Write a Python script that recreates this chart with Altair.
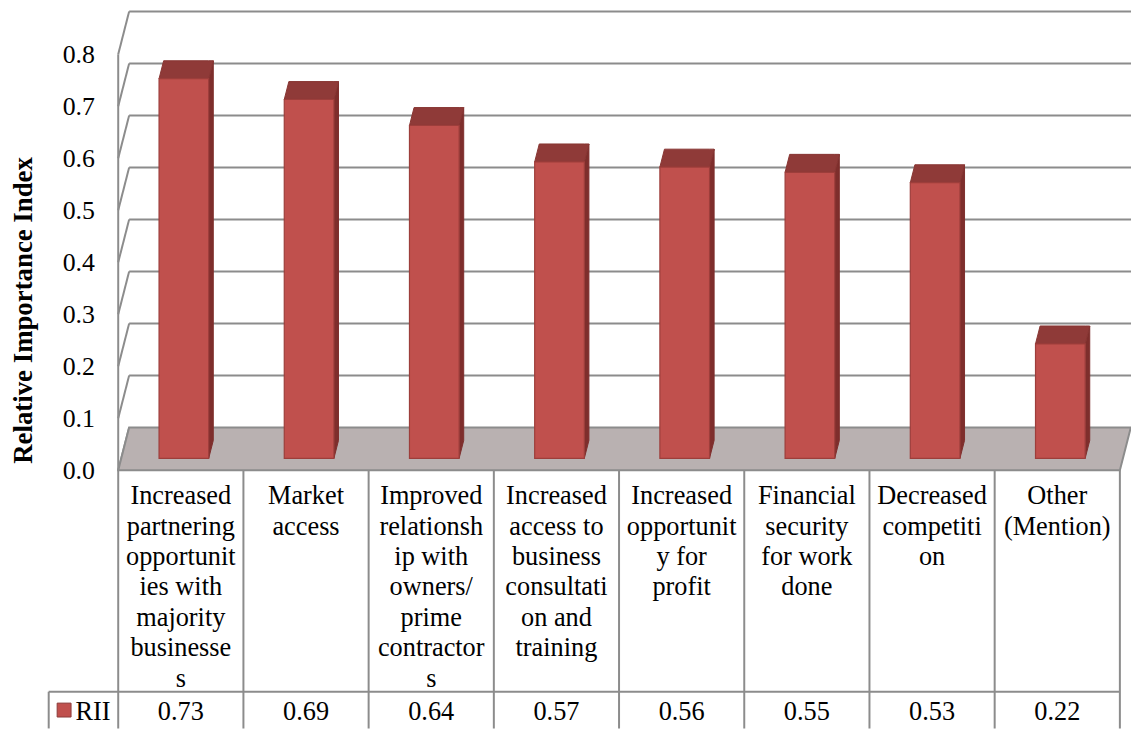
import altair as alt
import pandas as pd

# ---------------- data ----------------
category_lines = [
    ["Increased", "partnering", "opportunit", "ies with", "majority", "businesse", "s"],
    ["Market", "access"],
    ["Improved", "relationsh", "ip with", "owners/", "prime", "contractor", "s"],
    ["Increased", "access to", "business", "consultati", "on and", "training"],
    ["Increased", "opportunit", "y for", "profit"],
    ["Financial", "security", "for work", "done"],
    ["Decreased", "competiti", "on"],
    ["Other", "(Mention)"],
]
rii = [0.73, 0.69, 0.64, 0.57, 0.56, 0.55, 0.53, 0.22]
series_name = "RII"
y_ticks = [0.0, 0.1, 0.2, 0.3, 0.4, 0.5, 0.6, 0.7, 0.8]
y_title = "Relative Importance Index"

# ---------------- geometry (scale settings) ----------------
N = len(rii)
PXU = 126.1      # px per category column
PXV = 523.75     # px per 1.0 of value
PLOT_W, PLOT_H = 1020, 723
X_DOM = [0, PLOT_W / PXU]
Y_DOM = [-(731 - 471) / PXV, (471 - 8) / PXV]
WDX, WDY = 11 / PXU, 43 / PXV          # depth of the 3-D box
F0, T = 0.28, 0.42                     # bar front depth and thickness (fraction of box depth)
HW = 25 / PXU                          # half bar width
ROW_Y = -(694 - 471) / PXV             # table row separator
VAL_Y = -(722.5 - 471) / PXV           # value baseline
CAT_Y = -(484 - 471) / PXV             # category text top
LEG_X = -(119 - 49) / PXU              # legend cell left border
SQ_X, SQ_Y = -(119 - 64.5) / PXU, -(712.5 - 471) / PXV
TXT_X = -(119 - 76) / PXU

FONT = "'Liberation Serif', 'Times New Roman', 'DejaVu Serif', serif"
GRID = "#8c8c8c"

xs = alt.Scale(domain=X_DOM, nice=False, zero=False)
ys = alt.Scale(domain=Y_DOM, nice=False, zero=False)
y_axis = alt.Axis(title=y_title, values=y_ticks, format=".1f", domain=False, ticks=False,
                  grid=False, labelFont=FONT, labelFontSize=26, labelColor="black",
                  labelPadding=24, titleFont=FONT, titleFontSize=27, titleFontWeight="bold",
                  titleColor="black", titleAngle=270, titleAlign="center",
                  titleBaseline="middle", titleX=-95.5, titleY=301.5)


def X(f):
    return alt.X(f, type="quantitative", scale=xs, axis=None)


def Y(f):
    return alt.Y(f, type="quantitative", scale=ys, axis=y_axis)


# ---------------- derived tables ----------------
front, side, topf = [], [], []
for i, v in enumerate(rii):
    c = i + 0.5
    xl = c - HW + F0 * WDX
    xr = c + HW + F0 * WDX
    base = F0 * WDY
    top = base + v
    tdx, tdy = T * WDX, T * WDY
    front.append({"xl": xl, "xr": xr, "base": base, "top": top})
    side += [{"bar": i, "x": xr, "y": top, "y2": base},
             {"bar": i, "x": xr + tdx, "y": top + tdy, "y2": base + tdy}]
    topf += [{"bar": i, "x": xl, "y": top, "y2": top},
             {"bar": i, "x": xl + tdx, "y": top + tdy, "y2": top},
             {"bar": i, "x": xr, "y": top + tdy, "y2": top},
             {"bar": i, "x": xr + tdx, "y": top + tdy, "y2": top + tdy}]
front = pd.DataFrame(front)
side = pd.DataFrame(side)
topf = pd.DataFrame(topf)

floor = pd.DataFrame([
    {"x": 0, "y": 0, "y2": 0},
    {"x": WDX, "y": WDY, "y2": 0},
    {"x": N, "y": WDY, "y2": 0},
    {"x": N + WDX, "y": WDY, "y2": WDY},
])

grid = pd.DataFrame([{"x": WDX, "x2": X_DOM[1], "y": g + WDY} for g in y_ticks if g > 0])
diag = pd.DataFrame([{"x": 0, "x2": WDX, "y": g, "y2": g + WDY} for g in y_ticks])

segs = [{"x": 0, "x2": 0, "y": y_ticks[-1], "y2": Y_DOM[0]}]
segs += [{"x": k, "x2": k, "y": 0, "y2": Y_DOM[0]} for k in range(1, N + 1)]
segs += [{"x": LEG_X, "x2": N, "y": ROW_Y, "y2": ROW_Y},
         {"x": LEG_X, "x2": LEG_X, "y": ROW_Y, "y2": Y_DOM[0]}]
segs = pd.DataFrame(segs)

cats = pd.DataFrame({"x": [i + 0.5 for i in range(N)],
                     "y": [CAT_Y] * N,
                     "label": ["\n".join(l) for l in category_lines]})
vals = pd.DataFrame({"x": [i + 0.5 for i in range(N)],
                     "y": [VAL_Y] * N,
                     "label": [f"{v:.2f}" for v in rii]})
leg = pd.DataFrame({"x": [SQ_X], "y": [SQ_Y], "tx": [TXT_X], "ty": [VAL_Y], "label": [series_name]})

# ---------------- layers ----------------
grid_l = alt.Chart(grid).mark_rule(color=GRID, strokeWidth=2).encode(x=X("x"), x2="x2", y=Y("y"))
diag_l = alt.Chart(diag).mark_rule(color=GRID, strokeWidth=2).encode(x=X("x"), x2="x2", y=Y("y"), y2="y2")
floor_l = alt.Chart(floor).mark_area(fill="#b9b1b1", stroke=GRID, strokeWidth=2, orient="vertical",
                                     interpolate="linear").encode(x=X("x"), y=Y("y"), y2="y2")
side_l = alt.Chart(side).mark_area(fill="#7e2e2c", stroke="#7e2e2c", strokeWidth=1, orient="vertical").encode(
    x=X("x"), y=Y("y"), y2="y2", detail="bar:N")
top_l = alt.Chart(topf).mark_area(fill="#8f3a38", stroke="#873532", strokeWidth=1, orient="vertical").encode(
    x=X("x"), y=Y("y"), y2="y2", detail="bar:N")
front_l = alt.Chart(front).mark_rect(fill="#c0504d", stroke="#9d3e3b", strokeWidth=1.2).encode(
    x=X("xl"), x2="xr", y=Y("base"), y2="top")
segs_l = alt.Chart(segs).mark_rule(color=GRID, strokeWidth=2).encode(x=X("x"), x2="x2", y=Y("y"), y2="y2")
cats_l = alt.Chart(cats).mark_text(font=FONT, fontSize=26.5, color="black", align="center",
                                   baseline="top", lineBreak="\n", lineHeight=30.7).encode(
    x=X("x"), y=Y("y"), text="label:N")
vals_l = alt.Chart(vals).mark_text(font=FONT, fontSize=26.5, color="black", align="center",
                                   baseline="alphabetic").encode(x=X("x"), y=Y("y"), text="label:N")
sq_l = alt.Chart(leg).mark_point(shape="square", size=196, filled=True, fill="#c0504d", stroke="#8b3a38",
                                 strokeWidth=1, opacity=1).encode(x=X("x"), y=Y("y"))
legt_l = alt.Chart(leg).mark_text(font=FONT, fontSize=26.5, color="black", align="left",
                                  baseline="alphabetic").encode(x=X("tx"), y=Y("ty"), text="label:N")

chart = alt.layer(grid_l, diag_l, floor_l, side_l, top_l, front_l, segs_l, cats_l, vals_l, sq_l, legt_l).properties(
    width=PLOT_W, height=PLOT_H, autosize=alt.AutoSizeParams(type="none"),
    padding={"left": 111, "top": 0, "right": 0, "bottom": 0},
    background="white",
).configure_view(stroke=None)

chart.save("out.html", embed_options={"renderer": "svg", "actions": False})
